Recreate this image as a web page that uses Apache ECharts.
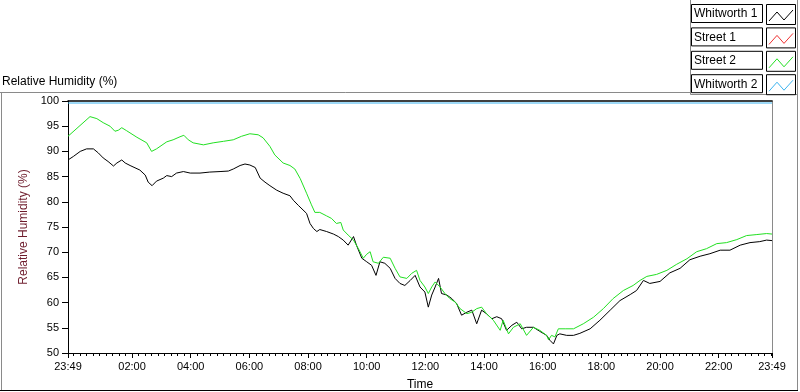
<!DOCTYPE html>
<html><head><meta charset="utf-8">
<script src="https://cdn.jsdelivr.net/npm/echarts@6/dist/echarts.min.js"></script>
<style>html,body{margin:0;padding:0;background:#fff;}#c{width:800px;height:392px;}</style>
</head><body><div id="c"></div>
<script>
// ---- data ----
const seriesNames = ['Whitworth 1', 'Street 1', 'Street 2', 'Whitworth 2'];
const startClock = '23:49';
const xTickLabels = ['23:49','02:00','04:00','06:00','08:00','10:00','12:00','14:00','16:00','18:00','20:00','22:00','23:49'];
const yMin = 50, yMax = 100, yStep = 5;

// minutes elapsed since 23:49 / relative humidity (%)
const whitworth1Minutes = [0,11,25,38,52,62,72,82,93,100,110,117,127,147,158,164,172,181,195,202,212,222,236,250,270,290,311,328,338,352,362,372,383,393,403,413,427,440,454,461,471,475,488,495,502,509,515,529,543,553,563,573,584,590,601,611,621,630,638,648,659,669,679,689,700,710,720,730,737,744,751,758,764,775,785,795,805,816,826,836,846,856,867,877,887,897,908,918,928,938,952,965,979,986,993,1000,1006,1020,1034,1047,1068,1088,1109,1129,1150,1163,1177,1190,1211,1231,1252,1272,1293,1313,1334,1354,1375,1395,1415,1429,1440];
const whitworth1Values = [88.3,89.0,90.0,90.5,90.5,89.7,88.7,88.0,87.1,87.7,88.3,87.7,87.2,86.3,85.3,83.9,83.2,84.1,84.7,85.2,85.0,85.7,86.0,85.7,85.7,85.9,86.0,86.1,86.5,87.2,87.5,87.3,86.8,84.7,83.9,83.2,82.3,81.7,81.2,80.3,79.3,79.1,77.7,75.7,74.7,74.1,74.5,74.1,73.6,73.1,72.4,71.4,73.1,71.4,68.8,68.1,67.4,65.4,68.1,67.8,66.8,64.8,63.8,63.4,64.4,65.4,63.1,62.1,59.1,61.5,63.1,64.8,61.8,61.5,60.8,59.8,57.5,58.1,58.5,55.8,58.5,57.8,56.8,57.2,56.8,54.5,55.5,56.1,54.8,55.1,55.1,54.3,53.5,52.5,51.8,53.5,53.8,53.5,53.5,53.9,54.8,56.5,58.5,60.4,61.6,62.4,64.4,63.8,64.2,65.9,66.8,68.5,69.2,69.7,70.4,70.4,71.4,71.9,72.1,72.4,72.3];

const street1Minutes = [];
const street1Values = [];

const street2Minutes = [0,45,59,72,86,96,103,110,120,141,161,171,181,202,215,229,237,246,256,277,297,318,338,355,372,389,399,413,423,440,454,464,475,488,498,505,515,529,539,549,558,563,573,584,594,604,611,618,624,635,645,659,669,679,693,703,713,720,730,737,744,751,761,771,781,792,802,816,826,836,846,856,870,884,890,901,911,925,938,952,965,979,983,989,996,1003,1017,1034,1054,1075,1095,1115,1136,1156,1170,1184,1204,1225,1245,1266,1286,1306,1327,1347,1368,1388,1409,1429,1440];
const street2Values = [93.0,96.9,96.5,95.7,95.0,94.0,94.2,94.7,94.1,92.8,91.7,90.0,90.5,91.9,92.3,92.9,93.2,92.3,91.7,91.3,91.7,92.0,92.3,93.0,93.5,93.3,92.7,91.0,89.3,87.7,87.2,86.5,84.6,81.7,79.4,77.9,77.9,77.2,76.7,75.7,75.9,74.4,73.4,72.4,70.7,68.8,69.6,70.1,68.1,67.8,69.0,68.8,66.8,65.1,64.8,65.8,66.4,64.4,63.1,61.8,63.1,64.1,63.1,61.8,60.8,60.1,58.8,57.8,58.1,58.8,59.1,57.8,56.5,54.5,56.5,53.8,55.1,55.8,53.5,55.1,54.5,53.5,52.6,53.5,53.2,54.8,54.8,54.8,55.8,57.1,58.8,60.8,62.4,63.4,64.4,65.2,65.6,66.4,67.6,68.7,70.1,70.7,71.7,71.9,72.5,73.3,73.5,73.7,73.6];

const whitworth2Minutes = [0, 1440];
const whitworth2Values = [99.6, 99.6];

// ---- styles ----
const colors = ['#000000', '#f03232', '#22e022', '#3cb4f0'];
const FONT = '"Liberation Sans", Arial, sans-serif';

function clockToMin(s){ const p = s.split(':'); return (+p[0])*60 + (+p[1]); }
const startMin = clockToMin(startClock);
const majorTicks = xTickLabels.map((s, i) => {
  let e = (clockToMin(s) - startMin + 1440) % 1440;
  if (i === xTickLabels.length - 1 && e === 0) e = 1440;
  return e;
});
const labelMap = {};
majorTicks.forEach((v, i) => labelMap[v] = xTickLabels[i]);
// minor ticks: 9 per 2-hour division, aligned on the clock grid
const minorTicks = [];
for (let k = 0; ; k++) {
  const v = (1440 - startMin) + k * 120 / 9;
  if (v > 1440) break;
  minorTicks.push(Math.round(v * 100) / 100);
}

function pairs(ts, vs){ return ts.map((t, i) => [t, vs[i]]); }
const allMinutes = [whitworth1Minutes, street1Minutes, street2Minutes, whitworth2Minutes];
const allValues = [whitworth1Values, street1Values, street2Values, whitworth2Values];

const chart = echarts.init(document.getElementById('c'), null, {renderer: 'canvas'});

// legend + frame graphics
const graphics = [];
const gray = '#8a8a8a';
function line(x1, y1, x2, y2, c, w){ graphics.push({type:'line', silent:true, shape:{x1, y1, x2, y2}, style:{stroke:c, lineWidth:w||1}}); }
line(0, 92.5, 690.5, 92.5, gray);
line(690.5, 0, 690.5, 94.5, gray);
line(690.5, 94.5, 797.5, 94.5, gray);
line(797.5, 0, 797.5, 391, gray);
line(1.5, 92.5, 1.5, 391, gray);
line(0, 390.5, 798, 390.5, '#000');
seriesNames.forEach((n, i) => {
  const top = 4 + i * 23.4;
  graphics.push({type:'rect', silent:true, shape:{x:691.5, y:top + 0.5, width:71, height:18}, style:{fill:'#fff', stroke:'#000', lineWidth:1}});
  graphics.push({type:'text', silent:true, style:{text:n, x:694, y:top + 10, verticalAlign:'middle', font:'12px ' + FONT, fill:'#000'}});
  graphics.push({type:'rect', silent:true, shape:{x:766.5, y:top + 0.5, width:29, height:20}, style:{fill:'#fff', stroke:'#000', lineWidth:1}});
  graphics.push({type:'polyline', silent:true, shape:{points:[[769, top + 17], [777, top + 8], [784, top + 16], [793, top + 6]]}, style:{stroke:colors[i], lineWidth:1, fill:null}});
});

const option = {
  animation: false,
  backgroundColor: '#fff',
  title: {text: 'Relative Humidity (%)', left: 2, top: 76, padding: 0, textStyle: {fontSize: 12, fontWeight: 'normal', color: '#000', fontFamily: FONT}},
  grid: {left: 68, right: 28, top: 101, bottom: 39, containLabel: false, outerBoundsMode: 'none'},
  xAxis: [
    {type:'value', min:0, max:1440, position:'bottom',
     name:'Time', nameLocation:'middle', nameGap:26, nameTextStyle:{fontSize:12, color:'#000', fontFamily:FONT},
     axisLine:{show:true, onZero:false, lineStyle:{color:'#000', width:1}},
     axisTick:{show:true, customValues:majorTicks, length:5, lineStyle:{color:'#000'}},
     axisLabel:{show:true, customValues:majorTicks, margin:8, fontSize:11, color:'#000', fontFamily:FONT, formatter: v => labelMap[Math.round(v)] || ''},
     splitLine:{show:false}},
    {type:'value', min:0, max:1440, position:'bottom',
     axisLine:{show:false}, axisTick:{show:true, customValues:minorTicks, length:3, lineStyle:{color:'#000'}},
     axisLabel:{show:false}, splitLine:{show:false}},
    {type:'value', min:0, max:1440, position:'top',
     axisLine:{show:true, onZero:false, lineStyle:{color:'#000', width:1.5}}, axisTick:{show:false}, axisLabel:{show:false}, splitLine:{show:false}}
  ],
  yAxis: [
    {type:'value', min:yMin, max:yMax, interval:yStep, position:'left',
     name:'Relative Humidity (%)', nameLocation:'middle', nameGap:30, nameTextStyle:{fontSize:12, color:'#6e1c2c', fontFamily:FONT},
     axisLine:{show:true, onZero:false, lineStyle:{color:'#000', width:1}},
     axisTick:{show:true, length:6, lineStyle:{color:'#000'}},
     axisLabel:{margin:9, fontSize:11, color:'#000', fontFamily:FONT},
     splitLine:{show:false}},
    {type:'value', min:yMin, max:yMax, position:'right',
     axisLine:{show:true, onZero:false, lineStyle:{color:gray, width:1}}, axisTick:{show:false}, axisLabel:{show:false}, splitLine:{show:false}}
  ],
  series: seriesNames.map((n, i) => ({
    name: n, type: 'line', xAxisIndex: 0, yAxisIndex: 0,
    data: pairs(allMinutes[i], allValues[i]),
    showSymbol: false, symbol: 'none', smooth: false,
    lineStyle: {color: colors[i], width: 1},
    itemStyle: {color: colors[i]},
    emphasis: {disabled: true}
  })),
  graphic: graphics
};
chart.setOption(option);
</script>
</body></html>
